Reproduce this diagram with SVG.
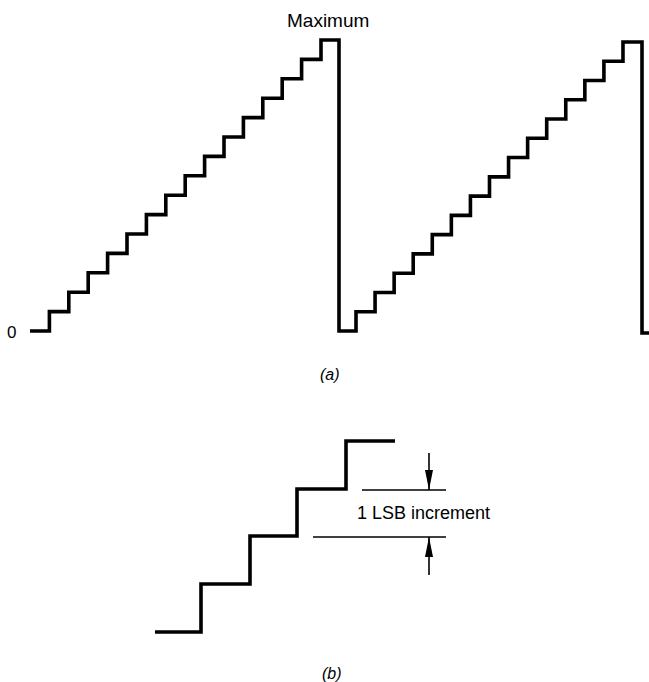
<svg xmlns="http://www.w3.org/2000/svg" width="649" height="682" viewBox="0 0 649 682">
<style>
.stair{fill:none;stroke:#000;stroke-width:3.6;stroke-linejoin:miter;stroke-linecap:butt}
.thin{fill:none;stroke:#000;stroke-width:1.6}
.lbl{font-family:"Liberation Sans",Arial,sans-serif;fill:#000}
.cap{font-family:"Liberation Sans",Arial,sans-serif;font-style:italic;fill:#000;font-size:16px}
</style>
<defs>
<marker id="ah" markerUnits="userSpaceOnUse" markerWidth="20" markerHeight="8" viewBox="0 0 20 8" refX="20" refY="4" orient="auto">
<path d="M0,0 L20,4 L0,8 Z" fill="#000"/>
</marker>
</defs>
<g id="waveform-a">
<path class="stair" d="M30,331 H49.4 v-19.4 h19.4 v-19.4 h19.4 v-19.4 h19.4 v-19.4 h19.4 v-19.4 h19.4 v-19.4 h19.4 v-19.4 h19.4 v-19.4 h19.4 v-19.4 h19.4 v-19.4 h19.4 v-19.4 h19.4 v-19.4 h19.4 v-19.4 h19.4 v-19.4 h19.4 v-19.4 H339 V331 H356 v-19.27 h19.07 v-19.27 h19.07 v-19.27 h19.07 v-19.27 h19.07 v-19.27 h19.07 v-19.27 h19.07 v-19.27 h19.07 v-19.27 h19.07 v-19.27 h19.07 v-19.27 h19.07 v-19.27 h19.07 v-19.27 h19.07 v-19.27 h19.07 v-19.27 h19.07 v-19.27 H642 V333 H649"/>
<text class="lbl" x="287" y="27" font-size="19">Maximum</text>
<text class="lbl" x="7" y="338" font-size="17">0</text>
<text class="cap" x="320" y="380">(a)</text>
</g>
<g id="waveform-b">
<path class="stair" d="M155,632 H201 V584 H250 V536 H297 V489 H346 V441 H395"/>
<text class="lbl" x="357" y="519" font-size="18">1 LSB increment</text>
<text class="cap" x="322" y="679">(b)</text>
</g>
<g id="connectors">
<path class="thin" d="M362,490 H446"/>
<path class="thin" d="M313,537 H446"/>
<path class="thin" d="M429,453 V490" marker-end="url(#ah)"/>
<path class="thin" d="M429,575 V537" marker-end="url(#ah)"/>
</g>
</svg>
